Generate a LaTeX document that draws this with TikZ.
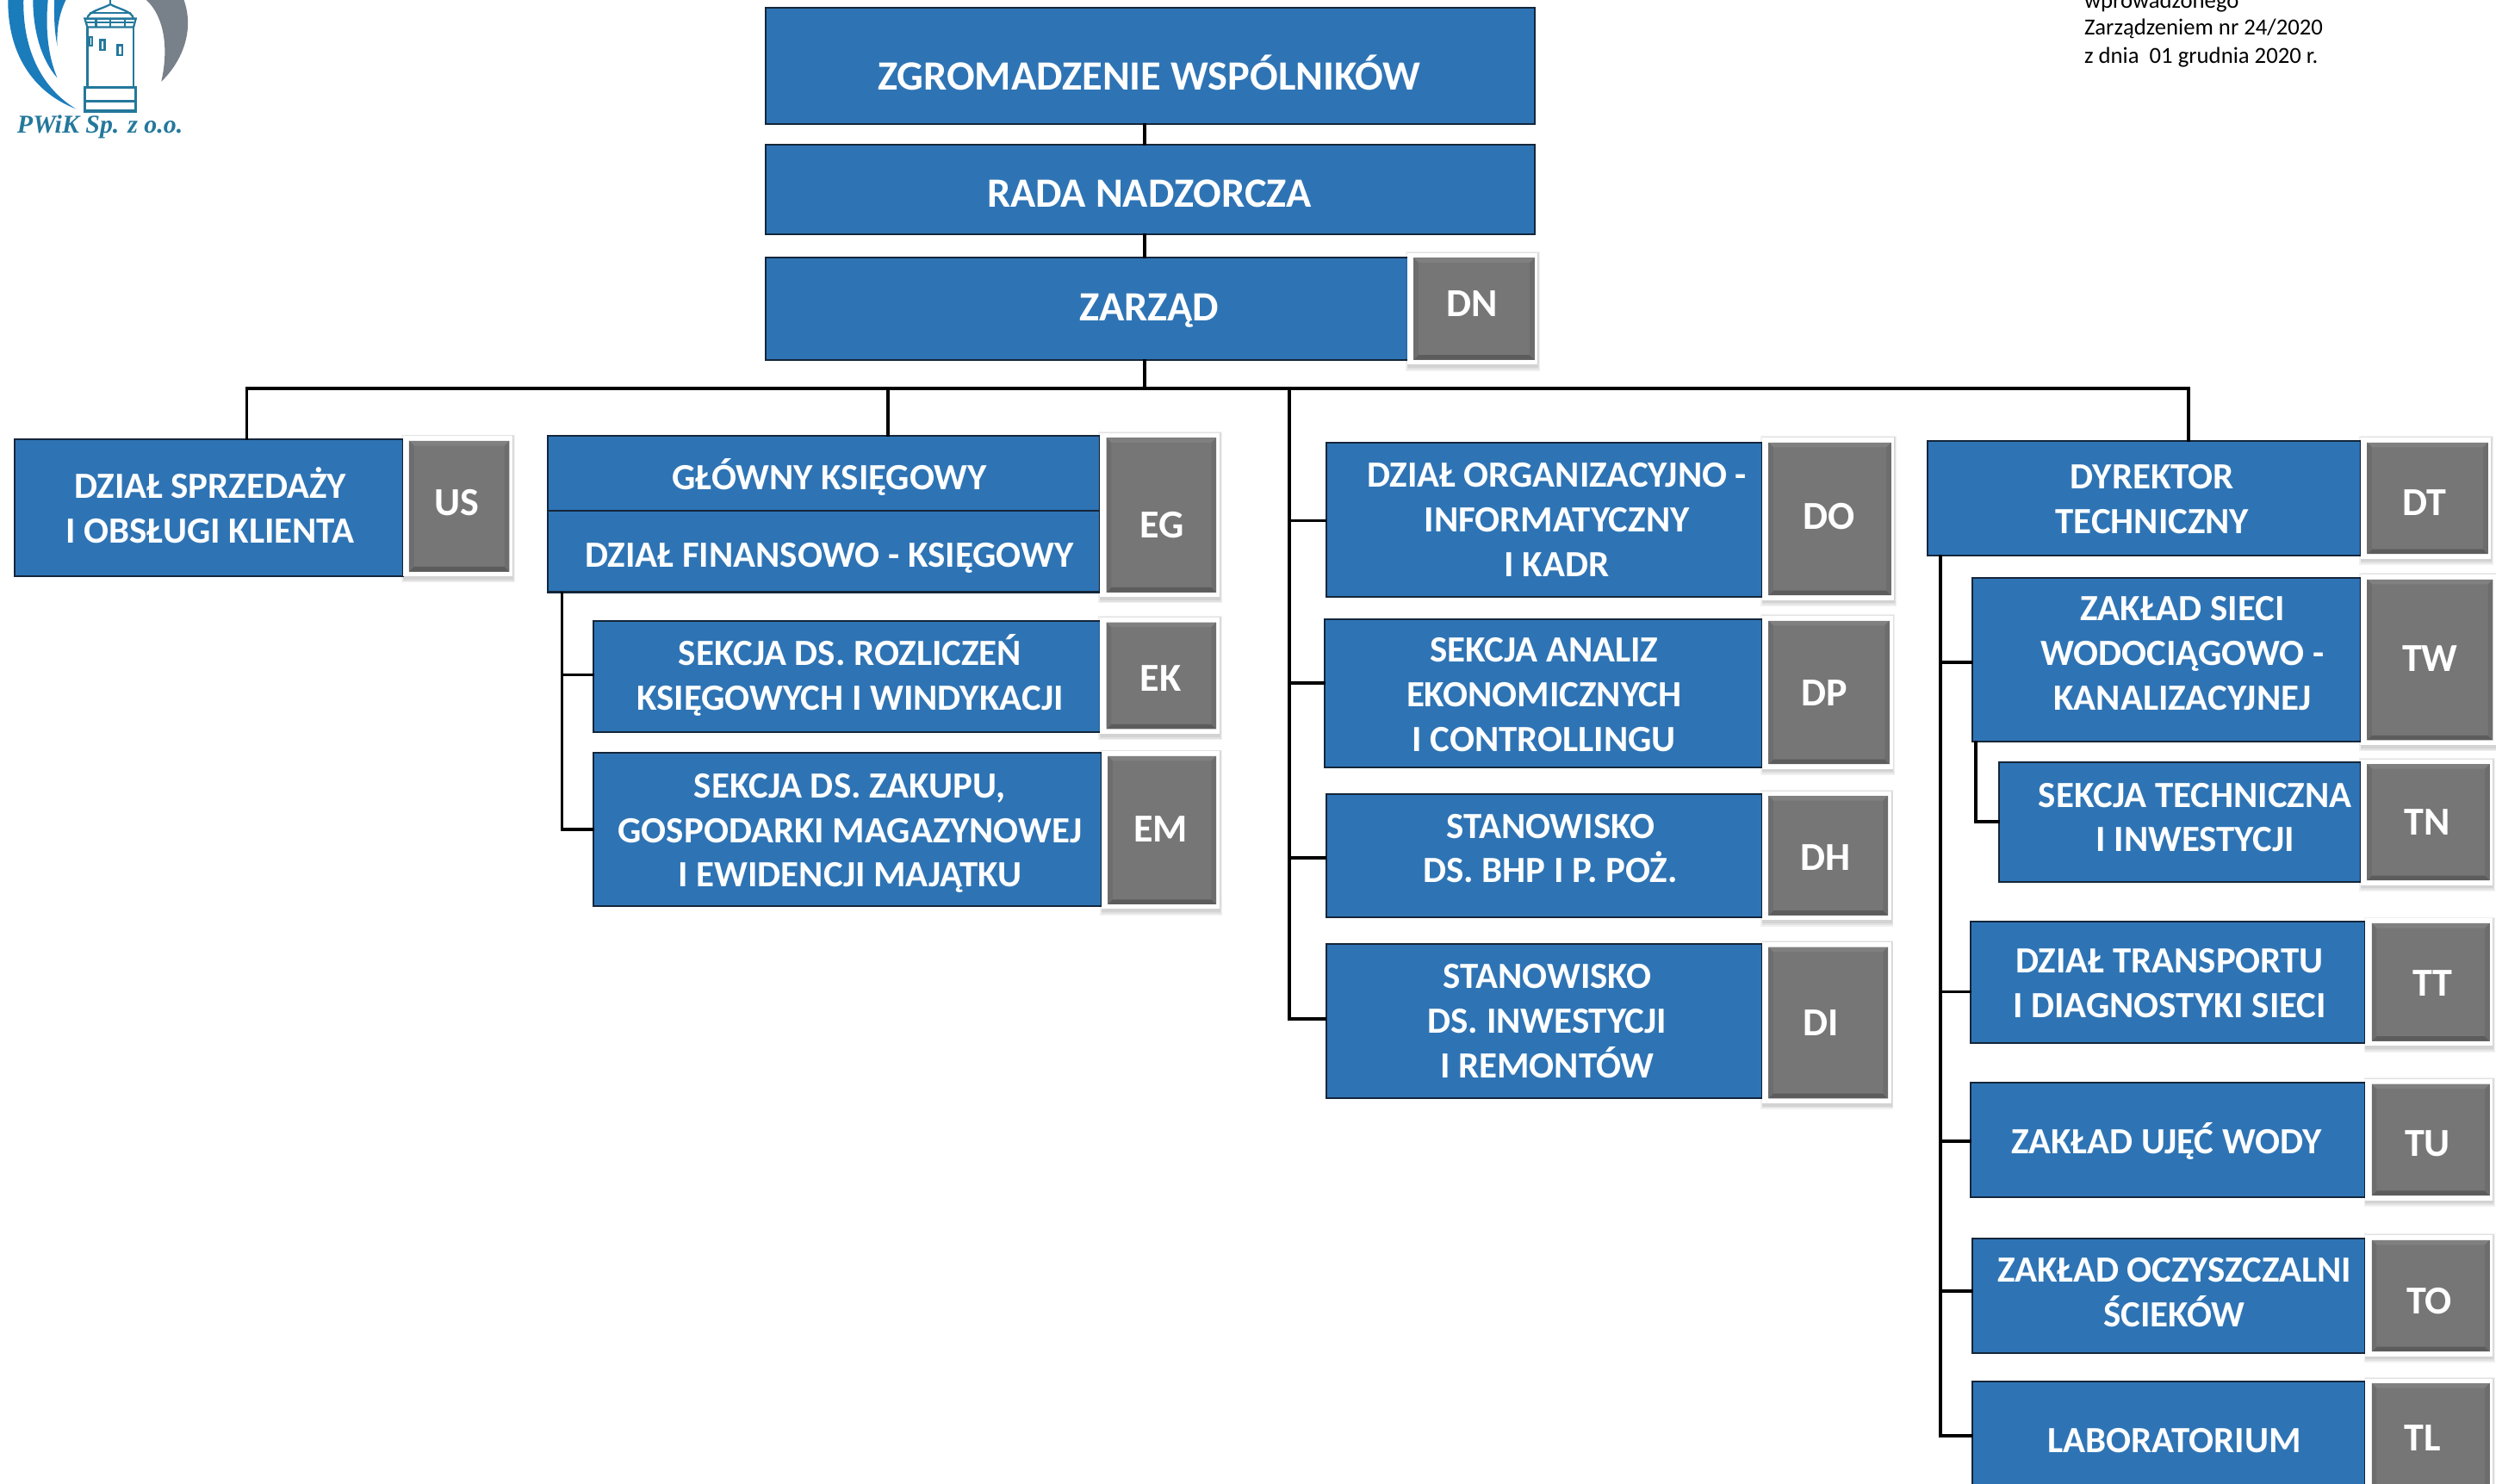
\documentclass[tikz,border=0pt]{standalone}
\usepackage{fontspec}
\setmainfont{Carlito}
\newfontfamily\logofont{Liberation Serif}
\usetikzlibrary{fit,calc}
\definecolor{bluefill}{HTML}{2E74B5}
\definecolor{boxedge}{HTML}{14263A}
\definecolor{tilegrey}{HTML}{767676}
\definecolor{tilelight}{HTML}{808080}
\definecolor{tileside}{HTML}{6D6D6D}
\definecolor{tiledark}{HTML}{5C5C5C}
\definecolor{logoblue}{HTML}{1B7CBC}
\definecolor{logoteal}{HTML}{24789C}
\definecolor{logogrey}{HTML}{78808A}
\tikzset{
  bluebox/.style={inner sep=0pt,fill=bluefill,draw=boxedge,line width=0.6pt},
  whitetile/.style={inner sep=0pt,fill=white,draw=none},
  greytile/.style={inner sep=0pt,fill=tilegrey,draw=none},
  boxtext/.style={text=white,inner sep=0pt,align=center,font=\fontsize{12.2}{14.72}\selectfont\bfseries},
  hugetext/.style={boxtext,font=\fontsize{13.75}{15}\selectfont\bfseries},
  tiletext/.style={boxtext,font=\fontsize{13.1}{15}\selectfont\bfseries},
  conn/.style={draw=black,line width=1.05pt,line cap=rect},
  softshadow/.style={fill=black,opacity=0.06,draw=none},
  logostroke/.style={draw=logoteal,line width=0.65pt,fill=none}
}
% name, left, top, right, bottom
\newcommand{\bbox}[5]{\node[bluebox,fit={(#2,#3)(#4,#5)}] (#1) {};}
% name, x, y, text
\newcommand{\lbl}[4]{\node[boxtext] (#1) at (#2,#3) {#4};}
% name, left, top, right, bottom, text x, text y, text
\newcommand{\tile}[8]{%
  \pgfmathsetmacro{\gl}{#2+4}\pgfmathsetmacro{\gt}{#3+3}%
  \pgfmathsetmacro{\gr}{#4-2}\pgfmathsetmacro{\gb}{#5-3}%
  \pgfmathsetmacro{\il}{\gl+3}\pgfmathsetmacro{\it}{\gt+3}%
  \pgfmathsetmacro{\ir}{\gr-3}\pgfmathsetmacro{\ib}{\gb-3}%
  \fill[softshadow] (#2-1,#3-1) rectangle (#4+1.5,#5+4);
  \fill[softshadow] (#2,#3-0.5) rectangle (#4+1,#5+3);
  \fill[softshadow] (#2,#3) rectangle (#4+0.5,#5+2);
  \node[whitetile,fit={(#2,#3)(#4,#5)}] (#1w) {};
  \node[greytile,fit={(\gl,\gt)(\gr,\gb)}] (#1) {};
  \fill[tilelight] (\gl,\gt) -- (\gr,\gt) -- (\ir,\it) -- (\il,\it) -- cycle;
  \fill[tiledark] (\gl,\gb) -- (\gr,\gb) -- (\ir,\ib) -- (\il,\ib) -- cycle;
  \fill[tileside] (\gl,\gt) -- (\il,\it) -- (\il,\ib) -- (\gl,\gb) -- cycle;
  \fill[tileside] (\gr,\gt) -- (\ir,\it) -- (\ir,\ib) -- (\gr,\gb) -- cycle;
  \node[tiletext] (#1t) at (#6,#7) {#8};
}
\begin{document}
\begin{tikzpicture}[x=0.01848cm,y=-0.01848cm]
\useasboundingbox (0,0) rectangle (1568,931.8);
\clip (0,0) rectangle (1568,931.8);
\fill[white] (0,0) rectangle (1568,931.8);

% blue boxes
\bbox{zgrom}{481}{5}{964}{78}
\bbox{rada}{481}{91}{964}{147}
\bbox{zarzad}{481}{162}{885}{226}
\bbox{us}{9}{276}{253}{362}
\bbox{gk}{344}{274}{691}{321}
\bbox{fk}{344}{321}{691}{372}
\bbox{ek}{373}{390}{692}{460}
\bbox{em}{373}{473}{692}{569}
\bbox{do}{833}{278}{1107}{375}
\bbox{dp}{832}{389}{1107}{482}
\bbox{dh}{833}{499}{1107}{576}
\bbox{di}{833}{593}{1107}{690}
\bbox{dt}{1211}{277}{1483}{349}
\bbox{tw}{1239}{363}{1483}{466}
\bbox{tn}{1256}{479}{1483}{554}
\bbox{tt}{1238}{579}{1486}{655}
\bbox{tu}{1238}{680}{1486}{752}
\bbox{to}{1239}{778}{1486}{850}
\bbox{tl}{1239}{868}{1486}{945}

% connector helpers
\coordinate (busT) at (719,244);
\coordinate (busUS) at (155,244);
\coordinate (busEG) at (558,244);
\coordinate (busC) at (810,244);
\coordinate (busDT) at (1375,244);
\coordinate (trunkE) at (353,300);
\coordinate (trunkD) at (1219,300);
\coordinate (trunkW) at (1241,300);
\coordinate (lvDO) at (0,327);
\coordinate (lvDP) at (0,429);
\coordinate (lvDH) at (0,539);
\coordinate (lvDI) at (0,640);
\coordinate (lvEK) at (0,424);
\coordinate (lvEM) at (0,521);
\coordinate (lvTW) at (0,416);
\coordinate (lvTN) at (0,516);
\coordinate (lvTT) at (0,623);
\coordinate (lvTU) at (0,717);
\coordinate (lvTO) at (0,811);
\coordinate (lvTL) at (0,902);

\draw[conn] (zgrom.south -| busT) -- (rada.north -| busT);
\draw[conn] (rada.south -| busT) -- (zarzad.north -| busT);
\draw[conn] (zarzad.south -| busT) -- (busT);
\draw[conn] (us.north -| busUS) -- (busUS) -- (busDT) -- (dt.north -| busDT);
\draw[conn] (busEG) -- (gk.north -| busEG);
\draw[conn] (busC) |- (di.west |- lvDI);
\draw[conn] (do.west |- lvDO) -- (busC |- lvDO);
\draw[conn] (dp.west |- lvDP) -- (busC |- lvDP);
\draw[conn] (dh.west |- lvDH) -- (busC |- lvDH);
\draw[conn] (fk.south -| trunkE) |- (em.west |- lvEM);
\draw[conn] (ek.west |- lvEK) -- (trunkE |- lvEK);
\draw[conn] (dt.south -| trunkD) |- (tl.west |- lvTL);
\draw[conn] (tw.west |- lvTW) -- (trunkD |- lvTW);
\draw[conn] (tt.west |- lvTT) -- (trunkD |- lvTT);
\draw[conn] (tu.west |- lvTU) -- (trunkD |- lvTU);
\draw[conn] (to.west |- lvTO) -- (trunkD |- lvTO);
\draw[conn] (tw.south -| trunkW) |- (tn.west |- lvTN);

% tiles
\tile{dn}{884}{159}{966}{229}{925}{191}{DN}
\tile{usc}{253}{274}{322}{362}{287}{316}{US}
\tile{eg}{691}{272}{766}{375}{730}{330}{EG}
\tile{ekc}{691}{388}{766}{461}{729}{426}{EK}
\tile{emc}{692}{472}{766}{571}{729}{521}{EM}
\tile{doc}{1107}{275}{1190}{377}{1149}{324.5}{DO}
\tile{dpc}{1107}{387}{1189}{483}{1146}{435.5}{DP}
\tile{dhc}{1107}{497}{1188}{578}{1147}{538.5}{DH}
\tile{dic}{1107}{592}{1188}{693}{1144}{642.5}{DI}
\tile{dtc}{1483}{275}{1565}{351}{1523}{316}{DT}
\tile{twc}{1483}{361}{1568}{468}{1526.5}{413.5}{TW}
\tile{tnc}{1483}{477}{1566}{556}{1525}{516.5}{TN}
\tile{ttc}{1486}{577}{1566}{657}{1528}{617.5}{TT}
\tile{tuc}{1486}{678}{1566}{754}{1525}{718.5}{TU}
\tile{toc}{1486}{776}{1566}{852}{1526}{817.5}{TO}
\tile{tlc}{1486}{866}{1566}{945}{1522}{903.5}{TL}

% box labels
\node[hugetext] (zgromt) at (722,45.5) {ZGROMADZENIE WSPÓLNIKÓW};
\node[hugetext] (radat) at (722,121.5) {RADA NADZORCZA};
\node[hugetext] (zarzadt) at (722,195) {ZARZĄD};
\lbl{ust}{132}{317.5}{DZIAŁ SPRZEDAŻY\\I OBSŁUGI KLIENTA}
\lbl{gkt}{521}{299.5}{GŁÓWNY KSIĘGOWY}
\lbl{fkt}{521}{350.5}{DZIAŁ FINANSOWO - KSIĘGOWY}
\lbl{ekt}{534}{424}{SEKCJA DS. ROZLICZEŃ\\KSIĘGOWYCH I WINDYKACJI}
\lbl{emt}{534}{523.5}{SEKCJA DS. ZAKUPU,\\GOSPODARKI MAGAZYNOWEJ\\I EWIDENCJI MAJĄTKU}
\lbl{dot}{978}{326.5}{DZIAŁ ORGANIZACYJNO -\\INFORMATYCZNY\\I KADR}
\lbl{dpt}{970}{436.5}{SEKCJA ANALIZ\\EKONOMICZNYCH\\I CONTROLLINGU}
\lbl{dht}{974}{533}{STANOWISKO\\DS. BHP I P. POŻ.}
\lbl{dit}{972}{641.5}{STANOWISKO\\DS. INWESTYCJI\\I REMONTÓW}
\lbl{dtt}{1352}{313.5}{DYREKTOR\\TECHNICZNY}
\lbl{twt}{1371}{410.5}{ZAKŁAD SIECI\\WODOCIĄGOWO -\\KANALIZACYJNEJ}
\lbl{tnt}{1379}{513.5}{SEKCJA TECHNICZNA\\I INWESTYCJI}
\lbl{ttt}{1363}{617.5}{DZIAŁ TRANSPORTU\\I DIAGNOSTYKI SIECI}
\lbl{tut}{1361}{717}{ZAKŁAD UJĘĆ WODY}
\lbl{tot}{1366}{812}{ZAKŁAD OCZYSZCZALNI\\ŚCIEKÓW}
\lbl{tlt}{1366}{905}{LABORATORIUM}

% top-right note
\node[anchor=base west,inner sep=0pt,text=black,font=\fontsize{7.6}{9}\selectfont] (note1) at (1309,5) {wprowadzonego};
\node[anchor=base west,inner sep=0pt,text=black,font=\fontsize{7.6}{9}\selectfont] (note2) at (1309,22) {Zarządzeniem nr 24/2020};
\node[anchor=base west,inner sep=0pt,text=black,font=\fontsize{7.6}{9}\selectfont] (note3) at (1309,40) {z dnia~~01 grudnia 2020 r.};

% logo
\begin{scope}[x=0.003333cm,y=-0.003333cm]
\fill[logoblue] (28,-5) .. controls (25,180) and (110,320) .. (265,380) .. controls (150,310) and (78,180) .. (82,-5) -- cycle;
\fill[logoblue] (115,-5) .. controls (115,110) and (145,210) .. (200,272) .. controls (165,190) and (158,90) .. (168,-5) -- cycle;
\fill[logoblue] (190,-5) .. controls (188,60) and (190,110) .. (200,160) .. controls (198,100) and (205,50) .. (232,-5) -- cycle;
\fill[logogrey] (505,-5) .. controls (560,40) and (595,140) .. (563,285) .. controls (640,210) and (680,100) .. (640,-5) -- cycle;
\draw[logostroke] (305,95) -- (305,305) (466,95) -- (466,305);
\draw[logostroke,line width=0.9pt] (297,305) rectangle (473,352);
\draw[logostroke,line width=0.9pt] (297,352) rectangle (473,388);
\draw[logostroke] (296,65) -- (474,65) -- (466,95) -- (305,95) -- cycle;
\draw[logostroke] (305,78) -- (466,78);
\draw[logostroke] (305,65) .. controls (305,40) and (360,30) .. (385,15) .. controls (410,30) and (465,40) .. (465,65);
\draw[logostroke] (312,45) -- (458,45);
\draw[logostroke] (385,0) -- (385,15);
\draw[logostroke] (350,140) rectangle (365,175);
\draw[logostroke] (410,158) rectangle (426,192);
\draw[logostroke] (311,130) rectangle (322,160);
\draw[logostroke] (335,65) -- (335,95) (385,65) -- (385,95) (435,65) -- (435,95);
\node[anchor=base west,inner sep=0pt,text=logoteal,font=\logofont\fontsize{8.5}{10}\selectfont\bfseries\itshape] (logotext) at (58,463) {PWiK Sp. z o.o.};
\end{scope}
\end{tikzpicture}
\end{document}
